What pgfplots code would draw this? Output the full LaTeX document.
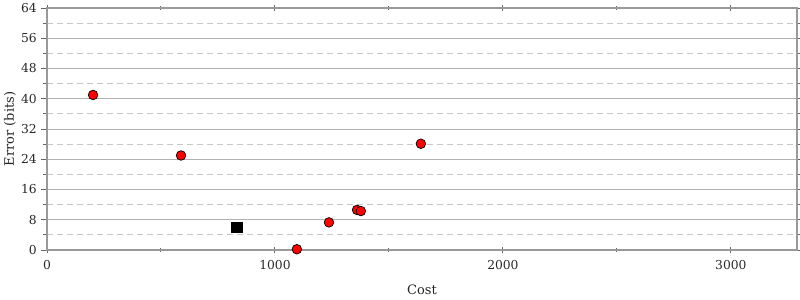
\documentclass[border=0pt]{standalone}
\usepackage{fontspec}
\setmainfont{DejaVu Serif}
\usepackage{pgfplots}
\pgfplotsset{compat=1.18}
\begin{document}
\fontsize{12bp}{14bp}\selectfont
\begin{tikzpicture}
\useasboundingbox (-47bp,-50bp) rectangle (753bp,242bp+8bp);
\begin{axis}[
  at={(0,0)}, anchor=south west, scale only axis,
  width=750bp, height=242bp,
  xmin=0, xmax=3290, ymin=0, ymax=64,
  xtick={0,1000,2000,3000}, ytick={0,8,...,64},
  minor x tick num=1, minor y tick num=1,
  ymajorgrids, yminorgrids,
  major grid style={color=black!30, solid, line width=0.8pt},
  minor grid style={color=black!22, dashed, dash pattern=on 6bp off 4bp, line width=0.8pt},
  axis line style={color=black!40, line width=1.2pt},
  major tick length=6bp, minor tick length=4bp,
  every tick/.style={color=black!60, line width=1pt},
  tick align=outside,
  x tick style={/pgfplots/tick align=center},
  /pgf/number format/assume math mode=true,
  /pgf/number format/1000 sep={},
  tick label style={font=\fontsize{12.3bp}{14bp}\selectfont, text=black!85},
  xlabel={Cost}, ylabel={Error (bits)},
  label style={font=\fontsize{13bp}{15bp}\selectfont, text=black!85},
  xlabel style={at={(axis description cs:0.5,-0.165)}, anchor=center},
  ylabel style={at={(axis description cs:-0.0493,0.5)}, anchor=center},
  clip=false,
]
\addplot[only marks, mark=*, mark size=4.8bp, mark options={fill=red, draw=black, line width=0.7pt}]
  coordinates {(202,41) (588,25) (1640,28.1) (1237,7.3) (1360,10.6) (1377,10.3) (1096,0.2)};
\addplot[only marks, mark=square*, mark size=5.2bp, mark options={fill=black, draw=black}]
  coordinates {(833,6)};
\end{axis}
\end{tikzpicture}
\end{document}
